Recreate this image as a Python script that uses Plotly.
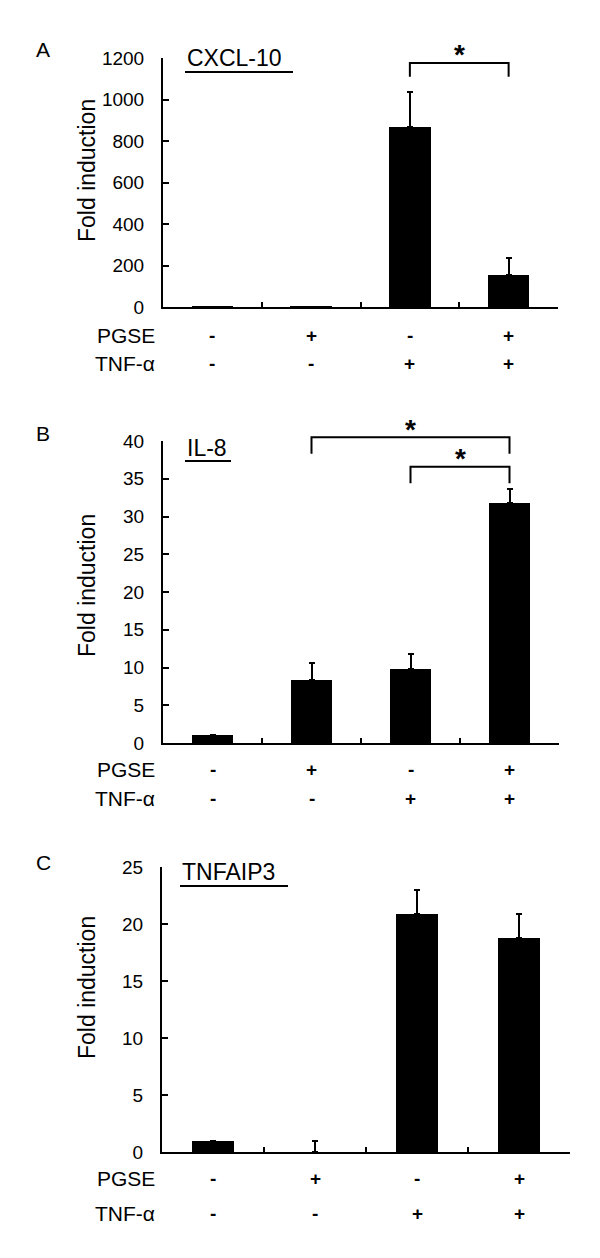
import plotly.graph_objects as go

# ---- data ----
positions = [0, 1, 2, 3]
pgse_row = ["-", "+", "-", "+"]
tnf_row = ["-", "-", "+", "+"]

cxcl10_mean = [1, 1, 867, 155]
cxcl10_err = [0, 0, 169, 82]

il8_mean = [1.0, 8.3, 9.8, 31.8]
il8_err = [0, 2.3, 2.0, 1.8]

tnfaip3_mean = [1.0, 0.0, 20.9, 18.8]
tnfaip3_err = [0, 0.95, 2.1, 2.1]

# significance brackets: (from, to, height in data units)
cxcl10_sig = [(2, 3, 1176)]
il8_sig = [(1, 3, 40.5), (2, 3, 36.6)]
tnfaip3_sig = []

W, H = 600, 1258
OFF = 8  # page body margin
FONT = "Liberation Sans, Arial, sans-serif"


def px(p):
    return (p - OFF) / W


def py(p):
    return 1 - (p - OFF) / H


panels = [
    dict(letter="A", gene="CXCL-10", mean=cxcl10_mean, err=cxcl10_err, sig=cxcl10_sig,
         ymax=1200, dtick=200, x0=163, x1=558, top=58, bottom=307,
         letter_y=50, title_x=185, title_w=108, title_y=58, ul_y=72,
         ylab_y=170, row1=335, row2=363),
    dict(letter="B", gene="IL-8", mean=il8_mean, err=il8_err, sig=il8_sig,
         ymax=40, dtick=5, x0=163, x1=559, top=441, bottom=743,
         letter_y=433, title_x=185, title_w=46, title_y=448, ul_y=461,
         ylab_y=585, row1=770, row2=798),
    dict(letter="C", gene="TNFAIP3", mean=tnfaip3_mean, err=tnfaip3_err, sig=tnfaip3_sig,
         ymax=25, dtick=5, x0=162, x1=570, top=867, bottom=1152,
         letter_y=862, title_x=180, title_w=108, title_y=872, ul_y=886,
         ylab_y=987, row1=1178, row2=1213),
]

fig = go.Figure()
annotations = []
shapes = []


def note(text, x, y, size, xref="paper", xanchor="center", **kw):
    annotations.append(dict(text=text, x=x, y=y, xref=xref, yref="paper",
                            xanchor=xanchor, yanchor="middle", showarrow=False,
                            font=dict(size=size), **kw))


for i, p in enumerate(panels):
    n = "" if i == 0 else str(i + 1)
    xa, ya = "x" + n, "y" + n
    d0, d1 = py(p["bottom"]), py(p["top"])

    fig.add_trace(go.Bar(
        x=positions, y=p["mean"], xaxis=xa, yaxis=ya, width=0.42,
        marker=dict(color="black", line=dict(width=0)),
        error_y=dict(type="data", symmetric=False, array=p["err"],
                     arrayminus=[0] * len(p["err"]), color="black",
                     thickness=2, width=3),
        showlegend=False, hoverinfo="skip",
    ))

    fig.layout["xaxis" + n] = dict(
        domain=[px(p["x0"]), px(p["x1"])], anchor=ya, range=[-0.5, 3.5], automargin=False,
        showgrid=False, zeroline=False, showline=True, linecolor="black", linewidth=2,
        tickvals=[0.5, 1.5, 2.5, 3.5], ticks="inside", ticklen=5, tickwidth=2,
        tickcolor="black", showticklabels=False, fixedrange=True,
    )
    fig.layout["yaxis" + n] = dict(
        domain=[d0, d1], anchor=xa, range=[0, p["ymax"]], dtick=p["dtick"], automargin=False,
        showgrid=False, zeroline=False, showline=True, linecolor="black", linewidth=2,
        ticks="inside", ticklen=6, tickwidth=2, tickcolor="black",
        ticklabelstandoff=13, tickfont=dict(family=FONT, size=19, color="black"),
        fixedrange=True,
    )

    def dy(v):
        return d0 + v / p["ymax"] * (d1 - d0)

    # panel letter, gene title with underline, y label
    note(p["letter"], px(43), py(p["letter_y"]), 21)
    note(p["gene"], px(p["title_x"]), py(p["title_y"]), 23, xanchor="left")
    shapes.append(dict(type="line", xref="paper", yref="paper",
                       x0=px(p["title_x"]), x1=px(p["title_x"] + p["title_w"]),
                       y0=py(p["ul_y"]), y1=py(p["ul_y"]), line=dict(color="black", width=2)))
    note("Fold induction", px(87), py(p["ylab_y"]), 23, textangle=-90)

    # treatment rows
    for label, row, yy in (("PGSE", pgse_row, p["row1"]), ("TNF-α", tnf_row, p["row2"])):
        note(label, px(157), py(yy), 21, xanchor="right")
        for xv, s in zip(positions, row):
            note("<b>" + s + "</b>", xv, py(yy), 19, xref=xa)

    # significance brackets
    for a, b, h in p["sig"]:
        drop = p["ymax"] * 0.055
        shapes.append(dict(type="path", xref=xa, yref="paper",
                           path="M %s,%s L %s,%s L %s,%s L %s,%s" % (
                               a, dy(h - drop), a, dy(h), b, dy(h), b, dy(h - drop)),
                           line=dict(color="black", width=2)))
        note("<b>*</b>", (a + b) / 2, dy(h) + 8 / H, 28, xref=xa)

fig.update_layout(
    width=W, height=H, margin=dict(l=0, r=0, t=0, b=0),
    paper_bgcolor="white", plot_bgcolor="white",
    font=dict(family=FONT, color="black"),
    annotations=annotations, shapes=shapes, bargap=0,
)

fig.write_html("out.html")
